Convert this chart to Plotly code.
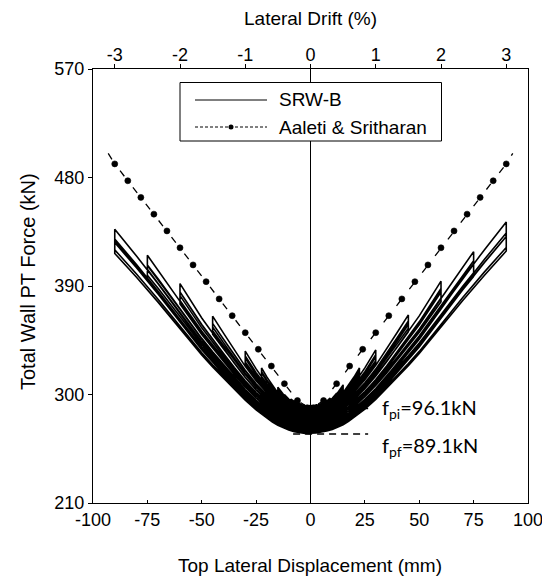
import numpy as np
import plotly.graph_objects as go

# ---------------- data ----------------
# Aaleti & Sritharan model (dashed line with dots)
AS_DISP = [-93, -90, -84, -78, -72, -66, -60, -54, -48, -42, -36, -30, -24, -18, -12, -6, 0,
           6, 12, 18, 24, 30, 36, 42, 48, 54, 60, 66, 72, 78, 84, 90, 93]
AS_FORCE = [500.0, 491.3, 477.3, 463.5, 449.6, 435.7, 421.7, 407.5, 393.6, 379.3, 365.4, 351.3,
            337.5, 323.6, 309.0, 295.0, 288.0,
            295.0, 309.0, 323.6, 337.5, 351.3, 365.4, 379.3, 393.6, 407.5, 421.7, 435.7,
            449.6, 463.5, 477.3, 491.3, 500.0]

# SRW-B test: displacement levels (mm), three cycles per level
LEVEL_AMP = [1.5, 3, 4.5, 6, 7.5, 9, 12, 15, 22.5, 30, 45, 60, 75, 90]
# force at zero displacement at the start of each cycle (kN)
LEVEL_BASE = [[290.6, 290.5, 290.4], [290.3, 290.2, 290.1], [290.0, 289.9, 289.8],
              [289.7, 289.5, 289.4], [289.3, 289.1, 289.0], [288.9, 288.7, 288.5],
              [288.3, 288.0, 287.8], [287.5, 287.1, 286.8], [286.4, 285.8, 285.3],
              [284.7, 283.9, 283.2], [282.3, 281.1, 280.1], [278.7, 277.1, 275.9],
              [274.3, 272.8, 271.6], [270.4, 269.2, 268.4]]
END_BASE = 267.5
# peak force at +amplitude / -amplitude (kN)
LEVEL_PEAK_POS = [[291.0, 290.9, 290.8], [291.4, 291.2, 291.1], [292.2, 292.0, 291.8],
                  [293.6, 293.2, 293.0], [295.2, 294.8, 294.5], [297.0, 296.4, 296.0],
                  [301.0, 300.2, 299.6], [308.0, 306.0, 305.0], [322.0, 320.0, 319.0],
                  [337.0, 333.0, 331.0], [366.0, 361.0, 358.0], [394.0, 388.0, 385.0],
                  [418.5, 411.0, 408.0], [443.0, 434.0, 431.0]]
LEVEL_PEAK_NEG = [[291.0, 290.9, 290.8], [291.3, 291.1, 291.0], [292.0, 291.8, 291.6],
                  [293.3, 293.0, 292.8], [294.8, 294.4, 294.1], [296.2, 295.7, 295.3],
                  [300.0, 299.2, 298.7], [306.0, 304.0, 303.0], [322.0, 319.0, 318.0],
                  [336.0, 332.0, 330.0], [365.0, 359.0, 356.0], [392.0, 385.0, 382.0],
                  [415.5, 407.0, 404.0], [437.0, 429.0, 426.0]]
# force drop during the hold at the peak (kN)
LEVEL_DROP_POS = [0.3, 0.4, 0.6, 0.8, 1.0, 1.5, 2.0, 3.0, 4.0, 5.0, 6.0, 8.0, 10.0, 12.0]
LEVEL_DROP_NEG = [0.3, 0.4, 0.6, 0.8, 1.0, 1.5, 2.0, 3.0, 4.0, 5.0, 6.0, 7.0, 8.0, 9.0]

# branch profile (rise above force at zero displacement)
PROFILE_X = [0, 2.5, 5, 7.5, 10, 12.5, 15, 17.5, 20, 25, 30, 35, 40, 45, 50, 60, 70, 80, 90, 95]
PROFILE_RISE = [0, 0.2, 0.8, 1.7, 3.0, 4.8, 7.0, 9.8, 13.0, 20.0, 28.0, 37.0, 46.5, 56.0,
                66.0, 88.0, 110.0, 131.0, 151.0, 161.0]

F_PI = 288.3   # 3 x 96.1 kN
F_PF = 267.3   # 3 x 89.1 kN

X_TICKS = [-100, -75, -50, -25, 0, 25, 50, 75, 100]
Y_TICKS = [210, 300, 390, 480, 570]
DRIFT_TICKS = [-3, -2, -1, 0, 1, 2, 3]
WALL_HEIGHT_MM = 3000.0


def branch(amp, f0, fpeak):
    xs = [x for x in PROFILE_X if x < amp] + [amp]
    r_amp = np.interp(amp, PROFILE_X, PROFILE_RISE)
    ys = [f0 + (fpeak - f0) * np.interp(x, PROFILE_X, PROFILE_RISE) / r_amp for x in xs]
    return xs, ys


cycles = []
for li, a in enumerate(LEVEL_AMP):
    for ci in range(len(LEVEL_BASE[li])):
        cycles.append((a, LEVEL_BASE[li][ci], LEVEL_PEAK_POS[li][ci], LEVEL_PEAK_NEG[li][ci],
                       LEVEL_DROP_POS[li], LEVEL_DROP_NEG[li]))

srw_x, srw_y = [], []
for i, (a, b0, pp, pn, dp, dn) in enumerate(cycles):
    b_next = cycles[i + 1][1] if i + 1 < len(cycles) else END_BASE
    b_mid = 0.5 * (b0 + b_next)
    for sign, pk, dr, bs, be in ((1, pp, dp, b0, b_mid), (-1, pn, dn, b_mid, b_next)):
        lx, ly = branch(a, bs, pk)
        ux, uy = branch(a, be, pk - dr)
        srw_x += [sign * x for x in lx] + [sign * x for x in ux[::-1]]
        srw_y += ly + uy[::-1]

FONT = "Liberation Sans, Arial, sans-serif"

fig = go.Figure()

fig.add_trace(go.Scatter(
    x=srw_x, y=srw_y, mode="lines", name="SRW-B",
    line=dict(color="black", width=1.6), showlegend=False, hoverinfo="skip"))

hidden = (0, len(AS_DISP) // 2, len(AS_DISP) - 1)
as_sizes = [0 if i in hidden else 6 for i in range(len(AS_DISP))]
fig.add_trace(go.Scatter(
    x=AS_DISP, y=AS_FORCE, mode="lines+markers", name="Aaleti & Sritharan",
    line=dict(color="black", width=1.3, dash="7px,14px"),
    marker=dict(color="black", size=as_sizes, opacity=1, line=dict(width=0.6, color="black")),
    showlegend=False, hoverinfo="skip"))

# trace carrying the top (drift) axis
fig.add_trace(go.Scatter(
    x=list(DRIFT_TICKS), y=[None] * len(DRIFT_TICKS), xaxis="x2", yaxis="y",
    mode="lines", showlegend=False, hoverinfo="skip"))


# plot area in page pixels: x 93..528, y 69..503 (page has an 8 px body margin)
def px2paper_x(px):
    return (px - 93) / 435.0


def px2paper_y(py):
    return (503 - py) / 434.0


shapes = [
    dict(type="line", xref="x", yref="y", x0=0, x1=0, y0=210, y1=570,
         line=dict(color="black", width=1), layer="below"),
    dict(type="line", xref="x", yref="y", x0=-8, x1=26.5, y0=F_PI, y1=F_PI,
         line=dict(color="black", width=1.5, dash="7px,5px"), layer="below"),
    dict(type="line", xref="x", yref="y", x0=-8, x1=26.5, y0=F_PF, y1=F_PF,
         line=dict(color="black", width=1.5, dash="7px,5px"), layer="below"),
    # legend box
    dict(type="rect", xref="paper", yref="paper",
         x0=px2paper_x(180), x1=px2paper_x(441.5), y0=px2paper_y(141), y1=px2paper_y(82.5),
         line=dict(color="black", width=1), fillcolor="white", layer="above"),
    dict(type="line", xref="paper", yref="paper",
         x0=px2paper_x(195), x1=px2paper_x(267), y0=px2paper_y(100), y1=px2paper_y(100),
         line=dict(color="black", width=1), layer="above"),
    dict(type="line", xref="paper", yref="paper",
         x0=px2paper_x(195), x1=px2paper_x(267), y0=px2paper_y(127), y1=px2paper_y(127),
         line=dict(color="black", width=1, dash="3px,2px"), layer="above"),
    dict(type="circle", xref="paper", yref="paper", xsizemode="pixel", ysizemode="pixel",
         xanchor=px2paper_x(231), yanchor=px2paper_y(127), x0=-2.5, x1=2.5, y0=-2.5, y1=2.5,
         fillcolor="black", line=dict(color="black", width=0), layer="above"),
]

annotations = [
    dict(text="SRW-B", xref="paper", yref="paper", x=px2paper_x(277), y=px2paper_y(100),
         xanchor="left", yanchor="middle", showarrow=False, font=dict(family=FONT, size=19)),
    dict(text="Aaleti &amp; Sritharan", xref="paper", yref="paper", x=px2paper_x(277),
         y=px2paper_y(127), xanchor="left", yanchor="middle", showarrow=False,
         font=dict(family=FONT, size=19)),
    dict(text="f<sub>pi</sub>=96.1kN", xref="x", yref="y", x=32, y=F_PI,
         xanchor="left", yanchor="middle", showarrow=False,
         font=dict(family="Lato, Open Sans, sans-serif", size=20)),
    dict(text="f<sub>pf</sub>=89.1kN", xref="x", yref="y", x=32, y=256.5,
         xanchor="left", yanchor="middle", showarrow=False,
         font=dict(family="Lato, Open Sans, sans-serif", size=20)),
    dict(text="Top Lateral Displacement (mm)", xref="paper", yref="paper",
         x=px2paper_x(310), y=px2paper_y(565), xanchor="center", yanchor="middle",
         showarrow=False, font=dict(family=FONT, size=19)),
    dict(text="Lateral Drift (%)", xref="paper", yref="paper",
         x=px2paper_x(310), y=px2paper_y(18), xanchor="center", yanchor="middle",
         showarrow=False, font=dict(family=FONT, size=19)),
    dict(text="Total Wall PT Force (kN)", xref="paper", yref="paper",
         x=px2paper_x(28), y=px2paper_y(282), xanchor="center", yanchor="middle",
         textangle=-90, showarrow=False, font=dict(family=FONT, size=20)),
]

axis_common = dict(tickcolor="black", showline=True, linecolor="black", linewidth=1,
                   showgrid=False, zeroline=False, automargin=False,
                   tickfont=dict(family=FONT, size=18, color="black"))

# figure is placed 8 px in from the page's top-left corner by the body margin
fig.update_layout(
    template="none",
    width=542, height=572, autosize=False,
    margin=dict(l=85, r=22, t=61, b=77, pad=0),
    paper_bgcolor="white", plot_bgcolor="white",
    font=dict(family=FONT, size=18, color="black"),
    showlegend=False,
    xaxis=dict(range=[-100, 100], tickvals=X_TICKS, ticktext=[str(v) for v in X_TICKS],
               ticks="inside", ticklen=3, mirror=False, **axis_common),
    xaxis2=dict(range=[-100 / WALL_HEIGHT_MM * 100, 100 / WALL_HEIGHT_MM * 100],
                overlaying="x", side="top", anchor="y", tickvals=DRIFT_TICKS,
                ticktext=[str(v) for v in DRIFT_TICKS], ticks="outside", ticklen=4,
                ticklabelstandoff=-4, **axis_common),
    yaxis=dict(range=[210, 570], tickvals=Y_TICKS, ticktext=[str(v) for v in Y_TICKS],
               ticks="outside", ticklen=4, mirror=True, **axis_common),
    shapes=shapes, annotations=annotations,
)

fig.write_html("out.html")
